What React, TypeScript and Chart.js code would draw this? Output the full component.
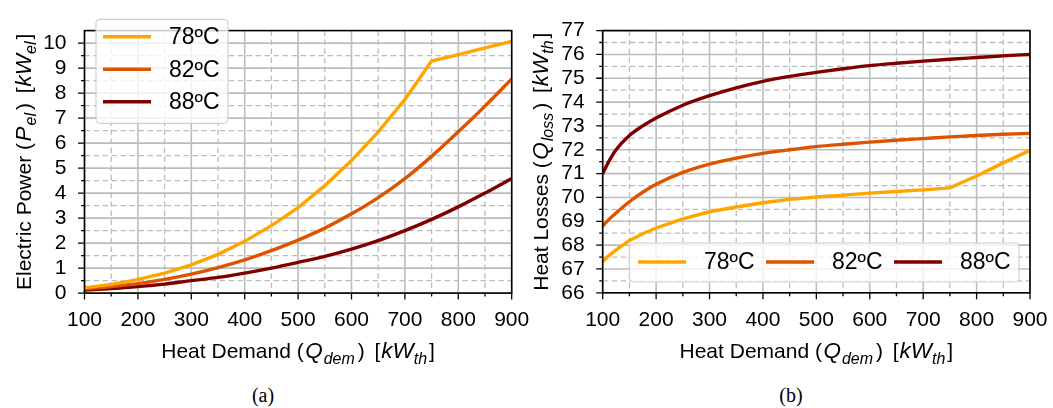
import React, { useEffect, useRef } from "react";
import { Chart, registerables } from "chart.js";

Chart.register(...registerables);

// ---------------- data ----------------
const heatDemand = [100, 110, 125, 150, 175, 200, 250, 300, 350, 400, 450, 500, 550, 600, 650, 700, 750, 800, 850, 900];
const seriesLabels = ["78ºC", "82ºC", "88ºC"];

const power78 = [0.22, 0.24, 0.28, 0.35, 0.44, 0.55, 0.8, 1.13, 1.55, 2.07, 2.7, 3.42, 4.3, 5.3, 6.45, 7.75, 9.28, 9.54, 9.81, 10.07];
const power82 = [0.17, 0.18, 0.21, 0.26, 0.32, 0.38, 0.55, 0.76, 1.02, 1.33, 1.7, 2.12, 2.6, 3.17, 3.82, 4.58, 5.47, 6.45, 7.48, 8.57];
const power88 = [0.12, 0.13, 0.15, 0.18, 0.22, 0.26, 0.36, 0.5, 0.63, 0.8, 1.0, 1.23, 1.47, 1.76, 2.1, 2.5, 2.95, 3.45, 4.0, 4.58];

const loss78 = [67.3, 67.53, 67.8, 68.2, 68.48, 68.72, 69.1, 69.4, 69.6, 69.78, 69.92, 70.02, 70.1, 70.18, 70.25, 70.32, 70.4, 70.9, 71.45, 71.98];
const loss82 = [68.8, 69.04, 69.35, 69.82, 70.22, 70.55, 71.05, 71.4, 71.65, 71.85, 72.0, 72.13, 72.23, 72.32, 72.4, 72.47, 72.54, 72.6, 72.65, 72.69];
const loss88 = [71.0, 71.45, 72.0, 72.6, 73.0, 73.33, 73.87, 74.27, 74.6, 74.87, 75.08, 75.25, 75.4, 75.53, 75.63, 75.72, 75.8, 75.87, 75.94, 76.0];

const xMajorTicks = [100, 200, 300, 400, 500, 600, 700, 800, 900];
const xMinorTicks = [150, 250, 350, 450, 550, 650, 750, 850];
const powerMajorTicks = [0, 1, 2, 3, 4, 5, 6, 7, 8, 9, 10];
const powerMinorTicks = [0.5, 1.5, 2.5, 3.5, 4.5, 5.5, 6.5, 7.5, 8.5, 9.5];
const lossMajorTicks = [66, 67, 68, 69, 70, 71, 72, 73, 74, 75, 76, 77];
const lossMinorTicks = [66.5, 67.5, 68.5, 69.5, 70.5, 71.5, 72.5, 73.5, 74.5, 75.5, 76.5];

// ---------------- styles ----------------
const COLORS = ["#ffa500", "#dc5400", "#800000"];
const FONT = "'Liberation Sans', Arial, Helvetica, sans-serif";
const GRID = "#bdbdbd";
const CANVAS_H = 370;

type Seg = { t: string; it?: boolean; sub?: boolean; gl?: number; gr?: number };

const xTitle: Seg[] = [
  { t: "Heat Demand (" }, { t: "Q", it: true, gl: 1.5, gr: 1 }, { t: "dem", it: true, sub: true, gr: 3 },
  { t: ")", gr: 4 }, { t: " [" }, { t: "kW", it: true, gl: 1 }, { t: "th", it: true, sub: true, gr: 2 }, { t: "]" },
];
const powerTitle: Seg[] = [
  { t: "Electric Power (" }, { t: "P", it: true, gl: 1.5, gr: 1 }, { t: "el", it: true, sub: true, gr: 3 },
  { t: ")", gr: 4 }, { t: " [" }, { t: "kW", it: true, gl: 1 }, { t: "el", it: true, sub: true, gr: 2 }, { t: "]" },
];
const lossTitle: Seg[] = [
  { t: "Heat Losses (" }, { t: "Q", it: true, gl: 1.5, gr: 1 }, { t: "loss", it: true, sub: true, gr: 3 },
  { t: ")", gr: 4 }, { t: " [" }, { t: "kW", it: true, gl: 1 }, { t: "th", it: true, sub: true, gr: 2 }, { t: "]" },
];

function segFont(s: Seg, size: number) {
  const sz = s.sub ? size * 0.76 : s.it ? size * 1.07 : size;
  return `${s.it ? "italic " : ""}${sz}px ${FONT}`;
}

function drawRich(ctx: CanvasRenderingContext2D, segs: Seg[], cx: number, cy: number, size: number, rotate: boolean) {
  ctx.save();
  ctx.translate(cx, cy);
  if (rotate) ctx.rotate(-Math.PI / 2);
  ctx.textBaseline = "alphabetic";
  ctx.textAlign = "left";
  ctx.fillStyle = "#000";
  const widths = segs.map((s) => {
    ctx.font = segFont(s, size);
    return ctx.measureText(s.t).width + (s.gl || 0) + (s.gr || 0);
  });
  const total = widths.reduce((a, b) => a + b, 0);
  let x = -total / 2;
  const base = size * 0.36;
  segs.forEach((s, i) => {
    ctx.font = segFont(s, size);
    ctx.fillText(s.t, x + (s.gl || 0), base + (s.sub ? size * 0.28 : 0));
    x += widths[i];
  });
  ctx.restore();
}

type LegendCfg = {
  horizontal: boolean;
  box: [number, number, number, number];
  x0: number;
  y0: number;
  step: number;
};

type DecorCfg = {
  xMinor: number[];
  xMajor: number[];
  yMinor: number[];
  yMajor: number[];
  yTitle: Seg[];
  yTitleX: number;
  xTitleY: number;
  legend: LegendCfg;
};

function decorPlugin(o: DecorCfg) {
  return {
    id: "decor",
    beforeDatasetsDraw(chart: any) {
      const { ctx, chartArea: a } = chart;
      const x = chart.scales.x;
      const y = chart.scales.y;
      ctx.save();
      ctx.strokeStyle = GRID;
      ctx.lineWidth = 1.3;
      ctx.setLineDash([5.5, 3.5]);
      ctx.beginPath();
      o.xMinor.forEach((v) => {
        const p = x.getPixelForValue(v);
        ctx.moveTo(p, a.top);
        ctx.lineTo(p, a.bottom);
      });
      o.yMinor.forEach((v) => {
        const p = y.getPixelForValue(v);
        ctx.moveTo(a.left, p);
        ctx.lineTo(a.right, p);
      });
      ctx.stroke();
      ctx.setLineDash([]);
      ctx.lineWidth = 1.6;
      ctx.beginPath();
      o.xMajor.forEach((v) => {
        const p = x.getPixelForValue(v);
        ctx.moveTo(p, a.top);
        ctx.lineTo(p, a.bottom);
      });
      o.yMajor.forEach((v) => {
        const p = y.getPixelForValue(v);
        ctx.moveTo(a.left, p);
        ctx.lineTo(a.right, p);
      });
      ctx.stroke();
      ctx.restore();
    },
    afterDatasetsDraw(chart: any) {
      const { ctx, chartArea: a } = chart;
      const x = chart.scales.x;
      const y = chart.scales.y;
      ctx.save();
      // frame
      ctx.strokeStyle = "#000";
      ctx.lineWidth = 1.6;
      ctx.strokeRect(a.left, a.top, a.right - a.left, a.bottom - a.top);
      // tick marks
      ctx.lineWidth = 1.3;
      ctx.beginPath();
      o.xMajor.forEach((v) => {
        const p = x.getPixelForValue(v);
        ctx.moveTo(p, a.bottom);
        ctx.lineTo(p, a.bottom + 6.5);
      });
      o.xMinor.forEach((v) => {
        const p = x.getPixelForValue(v);
        ctx.moveTo(p, a.bottom);
        ctx.lineTo(p, a.bottom + 3.5);
      });
      o.yMajor.forEach((v) => {
        const p = y.getPixelForValue(v);
        ctx.moveTo(a.left, p);
        ctx.lineTo(a.left - 6.5, p);
      });
      o.yMinor.forEach((v) => {
        const p = y.getPixelForValue(v);
        ctx.moveTo(a.left, p);
        ctx.lineTo(a.left - 3.5, p);
      });
      ctx.stroke();

      // legend
      const L = o.legend;
      const [bx, by, bw, bh] = L.box;
      ctx.beginPath();
      const r = 4;
      ctx.moveTo(bx + r, by);
      ctx.arcTo(bx + bw, by, bx + bw, by + bh, r);
      ctx.arcTo(bx + bw, by + bh, bx, by + bh, r);
      ctx.arcTo(bx, by + bh, bx, by, r);
      ctx.arcTo(bx, by, bx + bw, by, r);
      ctx.closePath();
      ctx.fillStyle = "rgba(255,255,255,0.8)";
      ctx.fill();
      ctx.strokeStyle = "#d0d0d0";
      ctx.lineWidth = 1.2;
      ctx.stroke();
      ctx.font = `23px ${FONT}`;
      ctx.textBaseline = "middle";
      ctx.textAlign = "left";
      chart.data.datasets.forEach((ds: any, i: number) => {
        const lx = L.horizontal ? L.x0 + i * L.step : L.x0;
        const ly = L.horizontal ? L.y0 : L.y0 + i * L.step;
        ctx.strokeStyle = ds.borderColor;
        ctx.lineWidth = 3.4;
        ctx.beginPath();
        ctx.moveTo(lx, ly);
        ctx.lineTo(lx + 48, ly);
        ctx.stroke();
        ctx.fillStyle = "#000";
        ctx.fillText(ds.label, lx + 66, ly + 1);
      });

      // axis titles
      drawRich(ctx, xTitle, (a.left + a.right) / 2, o.xTitleY - 21 * 0.36, 21, false);
      drawRich(ctx, o.yTitle, o.yTitleX, (a.top + a.bottom) / 2, 21, true);
      ctx.restore();
    },
  };
}

function buildConfig(
  series: number[][],
  yMin: number,
  yMax: number,
  yMajor: number[],
  plotLeft: number,
  plotTop: number,
  plotRight: number,
  plotBottom: number,
  canvasW: number,
  decor: DecorCfg
): any {
  return {
    type: "line",
    data: {
      datasets: series.map((vals, i) => ({
        label: seriesLabels[i],
        data: heatDemand.map((xv, j) => ({ x: xv, y: vals[j] })),
        borderColor: COLORS[i],
        backgroundColor: COLORS[i],
        borderWidth: 3.4,
        pointRadius: 0,
        tension: 0,
        cubicInterpolationMode: i === 0 ? "default" : "monotone",
        fill: false,
      })),
    },
    options: {
      animation: false,
      responsive: false,
      devicePixelRatio: 1,
      events: [],
      layout: { padding: { left: 0, top: plotTop, right: canvasW - plotRight, bottom: 0 } },
      plugins: { legend: { display: false }, tooltip: { enabled: false } },
      scales: {
        x: {
          type: "linear",
          min: 100,
          max: 900,
          afterBuildTicks: (s: any) => {
            s.ticks = xMajorTicks.map((v) => ({ value: v }));
          },
          afterFit: (s: any) => {
            s.height = CANVAS_H - plotBottom;
          },
          grid: { display: false, drawTicks: false },
          border: { display: false },
          ticks: { color: "#000", font: { size: 21, family: FONT }, padding: 15, maxRotation: 0, autoSkip: false },
        },
        y: {
          type: "linear",
          min: yMin,
          max: yMax,
          afterBuildTicks: (s: any) => {
            s.ticks = yMajor.map((v) => ({ value: v }));
          },
          afterFit: (s: any) => {
            s.width = plotLeft;
          },
          grid: { display: false, drawTicks: false },
          border: { display: false },
          ticks: { color: "#000", font: { size: 21, family: FONT }, padding: 18, autoSkip: false },
        },
      },
    },
    plugins: [decorPlugin(decor)],
  };
}

// canvases overlap (transparent), each wide enough that the last tick label
// overflow never pushes the plot area inwards
const LEFT_W = 548;
const RIGHT_X = 520;
const RIGHT_W = 548;

export default function App() {
  const leftRef = useRef<HTMLCanvasElement>(null);
  const rightRef = useRef<HTMLCanvasElement>(null);

  useEffect(() => {
    Chart.defaults.font.family = FONT;
    const left = new Chart(
      leftRef.current!,
      buildConfig([power78, power82, power88], 0, 10.5, powerMajorTicks, 84.5, 7.3, 511.7, 293.1, LEFT_W, {
        xMinor: xMinorTicks,
        xMajor: xMajorTicks,
        yMinor: powerMinorTicks,
        yMajor: powerMajorTicks,
        yTitle: powerTitle,
        yTitleX: 23,
        xTitleY: 358.3,
        legend: { horizontal: false, box: [96, 19.3, 132, 104], x0: 103, y0: 36.7, step: 32.5 },
      })
    );
    const right = new Chart(
      rightRef.current!,
      buildConfig([loss78, loss82, loss88], 66, 77, lossMajorTicks, 602.7 - RIGHT_X, 16.7, 1030 - RIGHT_X, 292.8, RIGHT_W, {
        xMinor: xMinorTicks,
        xMajor: xMajorTicks,
        yMinor: lossMinorTicks,
        yMajor: lossMajorTicks,
        yTitle: lossTitle,
        yTitleX: 540 - RIGHT_X,
        xTitleY: 358.3,
        legend: { horizontal: true, box: [629.5 - RIGHT_X, 243, 389.5, 39], x0: 638 - RIGHT_X, y0: 262, step: 128 },
      })
    );
    return () => {
      left.destroy();
      right.destroy();
    };
  }, []);

  const captionStyle: React.CSSProperties = {
    position: "absolute",
    top: 383,
    width: 60,
    textAlign: "center",
    fontFamily: "'Liberation Serif', 'Times New Roman', serif",
    fontSize: 20,
    lineHeight: "24px",
    color: "#000",
  };

  return (
    <div style={{ position: "fixed", left: 0, top: 0, width: 1053, height: 408, background: "#fff", overflow: "hidden" }}>
      <canvas
        ref={leftRef}
        width={LEFT_W}
        height={CANVAS_H}
        style={{ position: "absolute", left: 0, top: 0, width: LEFT_W, height: CANVAS_H }}
      />
      <canvas
        ref={rightRef}
        width={RIGHT_W}
        height={CANVAS_H}
        style={{ position: "absolute", left: RIGHT_X, top: 0, width: RIGHT_W, height: CANVAS_H }}
      />
      <div style={{ ...captionStyle, left: 263 - 30 }}>(a)</div>
      <div style={{ ...captionStyle, left: 791 - 30 }}>(b)</div>
    </div>
  );
}
